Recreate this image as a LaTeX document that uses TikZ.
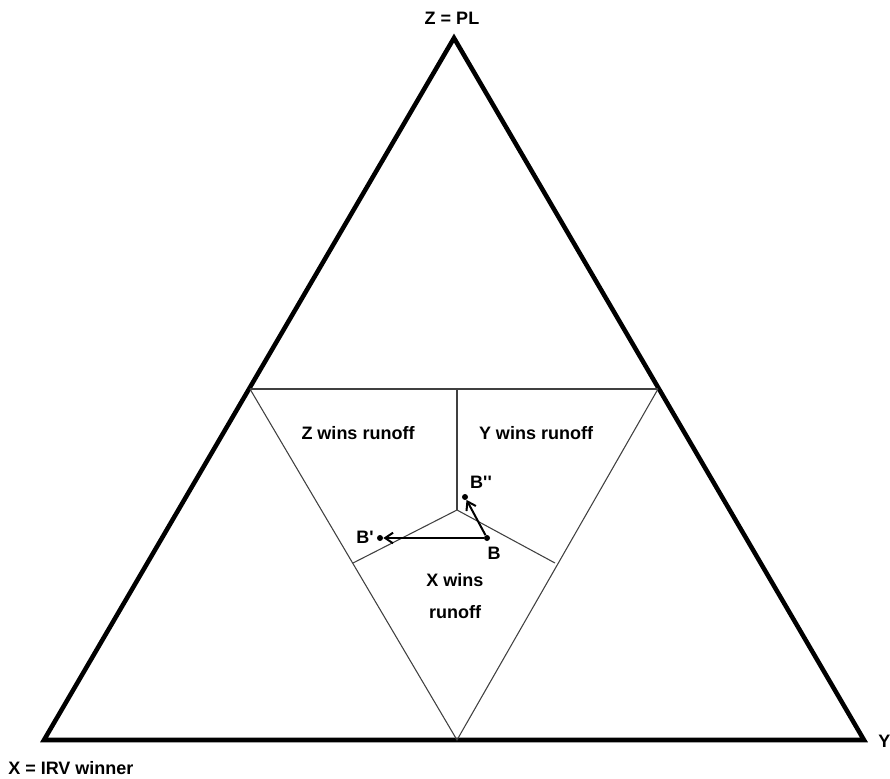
\documentclass[tikz,border=0pt]{standalone}
\usepackage{fontspec}
\setmainfont{Liberation Sans}
\usetikzlibrary{arrows.meta}

\begin{document}
\begin{tikzpicture}[
    x=0.75pt, y=-0.75pt,
    every node/.style={font=\bfseries\fontsize{13.5}{15}\selectfont, align=center, inner sep=0pt},
    outer/.style={line width=3.4pt, line join=miter},
    region/.style={line width=0.8pt, draw=black!75},
    dot/.style={circle, fill=black, minimum size=4.5pt, inner sep=0pt},
    arrow/.style={-{Straight Barb[length=6pt, width=8pt]}, line width=1.5pt}
]
\useasboundingbox (0,0) rectangle (890,779);

% corners of the simplex
\coordinate (X) at (44,740);
\coordinate (Y) at (864,740);
\coordinate (Z) at (454,38);
\coordinate (zx) at (250,389);
\coordinate (zy) at (658,389);
\coordinate (xy) at (457,740);
\coordinate (zt) at (457,389);
\coordinate (c) at (457,510);
\coordinate (l) at (353,563);
\coordinate (r) at (555,563);

\draw[outer] (X) -- (Y) -- (Z) -- cycle;
\draw[region] (zx) -- (zy);
\draw[region] (zx) -- (xy) -- (zy);
\draw[region] (zt) -- (c);
\draw[region] (l) -- (c) -- (r);

\node[dot] (B) at (487,538) {};
\node[dot] (Bp) at (380,538) {};
\node[dot] (Bpp) at (465,497) {};

\draw[arrow] (B) -- (Bp);
\draw[arrow] (B) -- (Bpp);

\node at (494,553) {B};
\node[anchor=east] at (374,537) {B\textquotesingle};
\node at (481,482) {B\textquotesingle\textquotesingle};

\node at (358,433) {Z wins runoff};
\node at (536,433) {Y wins runoff};
\node at (455,596) {X wins\\[9pt]runoff};

\node at (452,18) {Z = PL};
\node[anchor=west] at (8,768) {X = IRV winner};
\node[anchor=west] at (878,741) {Y};
\end{tikzpicture}
\end{document}
